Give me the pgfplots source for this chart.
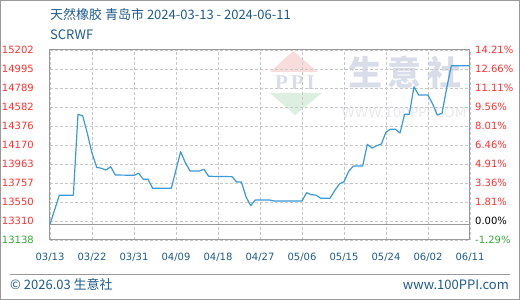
\documentclass[border=0pt]{standalone}
\usepackage{fontspec}
\setmainfont{DejaVu Sans}
\newfontfamily\cjk{Noto Sans CJK SC}
\newfontfamily\serifwm{Liberation Serif}
\usepackage{pgfplots}
\pgfplotsset{compat=1.18}
\definecolor{titleblue}{HTML}{1F5A8A}
\definecolor{linecol}{HTML}{3A9AD9}
\definecolor{gridcol}{HTML}{C8C8C8}
\definecolor{framecol}{HTML}{999999}
\definecolor{tred}{HTML}{FF3030}
\definecolor{tgreen}{HTML}{33AA33}
\definecolor{wm}{HTML}{D8DDE9}
\definecolor{wmlight}{HTML}{E8EAEF}
\definecolor{wmpink}{HTML}{F9DCDC}
\definecolor{wmgreen}{HTML}{DCEFE0}
\begin{document}
\begin{tikzpicture}[x=1pt,y=1pt]
\useasboundingbox (0pt,0pt) rectangle (520pt,300pt);
\draw[framecol, line width=1pt] (0.5pt,0.5pt) rectangle (519.5pt,299.5pt);
% watermark
\fill[wmpink] (293pt,249pt) -- (270pt,228pt) -- (318pt,228pt) -- cycle;
\node[text=wm, font=\serifwm\fontsize{21}{21}\selectfont\bfseries] at (295pt,217.5pt) {P\hspace{3pt}P\hspace{3pt}I};
\fill[wmgreen] (270pt,207pt) -- (322pt,207pt) -- (295pt,185pt) -- cycle;
\node[text=wm, font=\cjk\fontsize{34}{34}\selectfont\bfseries] at (405pt,227.5pt) {生\hspace{6pt}意\hspace{6pt}社};
\node[text=wmlight, font=\fontsize{13.5}{13.5}\selectfont] at (404pt,187pt) {WWW.100PPI.COM};
% titles
\node[anchor=base west, inner sep=0pt, text=titleblue, font=\cjk\fontsize{13}{13}\selectfont] at (50pt,280.5pt) {天然橡胶 青岛市 2024-03-13 - 2024-06-11};
\node[anchor=base west, inner sep=0pt, text=titleblue, font=\cjk\fontsize{13}{13}\selectfont] at (50pt,260pt) {SCRWF};
% footer
\draw[framecol, line width=1pt] (10pt,25pt) -- (510pt,25pt);
\node[anchor=base west, inner sep=0pt, text=titleblue, font=\cjk\fontsize{13}{13}\selectfont] at (10pt,10pt) {© 2026.03 生意社};
\node[anchor=base east, inner sep=0pt, text=titleblue, font=\cjk\fontsize{13}{13}\selectfont] at (509pt,10pt) {www.100PPI.com};
\begin{axis}[at={(50pt,60pt)}, anchor=south west, scale only axis, width=420pt, height=190pt,
  xmin=0, xmax=90, ymin=13138, ymax=15202,
  scaled y ticks=false,
  xtick={0,9,...,90},
  xticklabels={03/13,03/22,03/31,04/09,04/18,04/27,05/06,05/15,05/24,06/02,06/11},
  ytick={13138,13344.4,13550.8,13757.2,13963.6,14170,14376.4,14582.8,14789.2,14995.6,15202},
  yticklabels={\textcolor{tgreen}{13138},\textcolor{tred}{13310},\textcolor{tred}{13550},\textcolor{tred}{13757},\textcolor{tred}{13963},\textcolor{tred}{14170},\textcolor{tred}{14376},\textcolor{tred}{14582},\textcolor{tred}{14789},\textcolor{tred}{14995},\textcolor{tred}{15202}},
  grid=major, major grid style={gridcol, dash pattern=on 3pt off 2pt, line width=0.8pt},
  axis line style={framecol, line width=1pt},
  tick style={draw=none},
  xticklabel style={anchor=base, yshift=-20.5pt, inner sep=0pt, text=titleblue, font=\fontsize{10}{10}\selectfont},
  yticklabel style={anchor=east, xshift=-16pt, inner sep=0pt, font=\fontsize{10}{10}\selectfont},
]
\draw[framecol, line width=1pt] (axis cs:0,13310) -- (axis cs:90,13310);
\addplot[linecol, line width=1.2pt, line join=round] coordinates {
(0,13310) (2,13624) (5,13624) (6,14503) (7,14488) (8,14297) (9,14080) (10,13928)
(11,13917) (12,13898) (13,13934) (14,13844) (18,13841) (19,13863) (20,13797) (21,13797)
(22,13700) (26,13700) (27,13900) (28,14097) (29,13978) (30,13888) (32,13888) (33,13906)
(34,13830) (39,13826) (40,13768) (41,13768) (42,13608) (43,13511) (44,13573) (47,13573)
(48,13562) (54,13562) (55,13652) (56,13630) (57,13625) (58,13591) (60,13591) (61,13674)
(62,13746) (63,13772) (64,13884) (65,13942) (67,13942) (68,14177) (69,14137) (70,14162)
(71,14181) (72,14311) (73,14341) (74,14341) (75,14300) (76,14504) (77,14504) (78,14803)
(79,14713) (81,14713) (82,14615) (83,14496) (84,14514) (85,14786) (86,15031) (90,15031)
};
\end{axis}
\begin{axis}[at={(50pt,60pt)}, anchor=south west, scale only axis, width=420pt, height=190pt,
  xmin=0, xmax=90, ymin=13138, ymax=15202,
  scaled y ticks=false,
  hide x axis, axis y line*=right, axis line style={draw=none},
  ytick={13138,13344.4,13550.8,13757.2,13963.6,14170,14376.4,14582.8,14789.2,14995.6,15202},
  yticklabels={\textcolor{tgreen}{-1.29\%},\textcolor{black}{0.00\%},\textcolor{tred}{1.81\%},\textcolor{tred}{3.36\%},\textcolor{tred}{4.91\%},\textcolor{tred}{6.46\%},\textcolor{tred}{8.01\%},\textcolor{tred}{9.56\%},\textcolor{tred}{11.11\%},\textcolor{tred}{12.66\%},\textcolor{tred}{14.21\%}},
  tick style={draw=none},
  yticklabel style={anchor=west, xshift=5pt, inner sep=0pt, font=\fontsize{10}{10}\selectfont},
]
\addplot[draw=none] coordinates {(0,13310)};
\end{axis}
\end{tikzpicture}
\end{document}
